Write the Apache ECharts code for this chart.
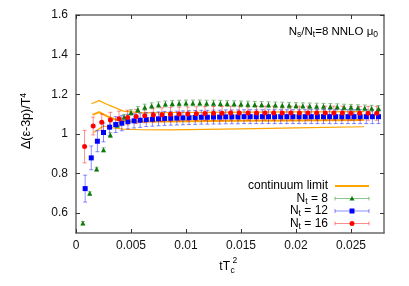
<!DOCTYPE html>
<html><head><meta charset="utf-8">
<script src="https://cdn.jsdelivr.net/npm/echarts@6/dist/echarts.min.js"></script>
<style>html,body{margin:0;padding:0;background:#fff}#c{width:409px;height:286px}</style>
</head><body><div id="c"></div>
<script>
const xTicks = [0, 0.005, 0.01, 0.015, 0.02, 0.025];
const yTicks = [0.6, 0.8, 1.0, 1.2, 1.4, 1.6];

const nt8X = [0.000625,0.00125,0.001875,0.0025,0.003125,0.00375,0.004375,0.005,0.005625,0.00625,
  0.006875,0.0075,0.008125,0.00875,0.009375,0.01,0.010625,0.01125,0.011875,0.0125,
  0.013125,0.01375,0.014375,0.015,0.015625,0.01625,0.016875,0.0175,0.018125,0.01875,
  0.019375,0.02,0.020625,0.02125,0.021875,0.0225,0.023125,0.02375,0.024375,0.025,
  0.025625,0.02625,0.026875,0.0275];
const nt8Y = [0.55,0.70,0.823,0.92,0.995,1.045,1.085,1.108,1.123,1.135,
  1.142,1.147,1.151,1.153,1.155,1.156,1.156,1.156,1.155,1.155,
  1.154,1.153,1.152,1.151,1.150,1.149,1.148,1.147,1.146,1.145,
  1.144,1.143,1.142,1.141,1.140,1.139,1.138,1.137,1.135,1.134,
  1.132,1.131,1.129,1.128];
const nt8Err = [0.008,0.008,0.009,0.010,0.011,0.012,0.013,0.014,0.015,0.015,
  0.015,0.015,0.015,0.015,0.015,0.015,0.015,0.015,0.015,0.015,
  0.015,0.015,0.015,0.015,0.015,0.015,0.015,0.015,0.015,0.015,
  0.015,0.015,0.015,0.015,0.015,0.015,0.015,0.015,0.015,0.015,
  0.015,0.015,0.015,0.015];

const nt12X = [0.000833,0.001389,0.001944,0.0025,0.003056,0.003611,0.004167,0.004722,0.005278,0.005833,
  0.006389,0.006944,0.0075,0.008056,0.008611,0.009167,0.009722,0.010278,0.010833,0.011389,
  0.011944,0.0125,0.013056,0.013611,0.014167,0.014722,0.015278,0.015833,0.016389,0.016944,
  0.0175,0.018056,0.018611,0.019167,0.019722,0.020278,0.020833,0.021389,0.021944,0.0225,
  0.023056,0.023611,0.024167,0.024722,0.025278,0.025833,0.026389,0.026944,0.0275];
const nt12Y = [0.724,0.879,0.963,1.007,1.034,1.047,1.054,1.062,1.066,1.069,
  1.072,1.074,1.076,1.078,1.079,1.080,1.081,1.082,1.083,1.084,
  1.084,1.085,1.085,1.086,1.086,1.086,1.087,1.087,1.087,1.087,
  1.087,1.087,1.087,1.087,1.087,1.087,1.087,1.087,1.087,1.087,
  1.087,1.087,1.087,1.087,1.087,1.087,1.087,1.087,1.087];
const nt12Err = [0.068,0.060,0.053,0.047,0.043,0.040,0.038,0.037,0.036,0.036,
  0.035,0.035,0.035,0.035,0.035,0.035,0.035,0.035,0.035,0.035,
  0.035,0.035,0.035,0.035,0.035,0.035,0.035,0.035,0.035,0.035,
  0.035,0.035,0.035,0.035,0.035,0.035,0.035,0.035,0.035,0.035,
  0.035,0.035,0.035,0.035,0.035,0.035,0.035,0.035,0.035];

const nt16X = [0.00078,0.00156,0.00234,0.00313,0.00391,0.00469,0.00547,0.00625,0.00703,0.00781,
  0.00859,0.00938,0.01016,0.01094,0.01172,0.0125,0.01328,0.01406,0.01484,0.01563,
  0.01641,0.01719,0.01797,0.01875,0.01953,0.02031,0.02109,0.02188,0.02266,0.02344,
  0.02422,0.025,0.02578,0.02656,0.02734];
const nt16Y = [0.936,1.040,1.059,1.070,1.077,1.083,1.088,1.092,1.095,1.097,
  1.099,1.100,1.101,1.102,1.103,1.104,1.104,1.105,1.105,1.105,
  1.105,1.105,1.105,1.105,1.105,1.105,1.105,1.105,1.105,1.105,
  1.105,1.104,1.104,1.104,1.104];
const nt16Err = [0.082,0.045,0.041,0.039,0.038,0.037,0.036,0.036,0.035,0.035,
  0.035,0.035,0.035,0.035,0.035,0.035,0.035,0.035,0.035,0.035,
  0.035,0.035,0.035,0.035,0.035,0.035,0.035,0.035,0.035,0.035,
  0.035,0.035,0.035,0.035,0.035];

const contUpX = [0.0014,0.0021,0.003,0.0043,0.006,0.009,0.015,0.02,0.0262];
const contUpY = [1.152,1.168,1.145,1.115,1.106,1.108,1.110,1.111,1.112];
const contMidX = [0.0015,0.0021,0.0028,0.0037,0.005,0.008,0.015,0.02,0.0262];
const contMidY = [1.096,1.110,1.090,1.070,1.063,1.063,1.066,1.068,1.070];
const contLowX = [0.0016,0.0025,0.0033,0.0043,0.006,0.0085,0.015,0.02,0.0262];
const contLowY = [1.007,1.040,1.031,1.024,1.021,1.020,1.025,1.030,1.036];

const FONT = "'Liberation Sans', Arial, Helvetica, sans-serif";
const ORANGE = '#ffa500';
const C8 = '#0b7a0b', C8B = 'rgba(11,122,11,0.45)';
const C12 = '#0000ff', C12B = 'rgba(0,0,255,0.45)';
const C16 = '#ff0000', C16B = 'rgba(255,0,0,0.45)';

function zip2(xs, ys) { return xs.map((x, i) => [x, ys[i]]); }
function zip3(xs, ys, es) { return xs.map((x, i) => [x, ys[i], es[i]]); }

function errSeries(data, color) {
  return {
    type: 'custom', data: data, z: 3, silent: true, animation: false,
    encode: { x: 0, y: 1 },
    renderItem: function (params, api) {
      const x = api.value(0), y = api.value(1), e = api.value(2);
      const t = api.coord([x, y + e]), b = api.coord([x, y - e]);
      const c = 2;
      const st = { stroke: color, lineWidth: 1 };
      return { type: 'group', children: [
        { type: 'line', shape: { x1: t[0], y1: t[1], x2: b[0], y2: b[1] }, style: st },
        { type: 'line', shape: { x1: t[0] - c, y1: t[1], x2: t[0] + c, y2: t[1] }, style: st },
        { type: 'line', shape: { x1: b[0] - c, y1: b[1], x2: b[0] + c, y2: b[1] }, style: st }
      ]};
    }
  };
}
function markSeries(data, symbol, size, color) {
  return { type: 'scatter', data: data, symbol: symbol, symbolSize: size, z: 4, silent: true,
    itemStyle: { color: color, opacity: 1 }, animation: false };
}
function contSeries(data, w) {
  return { type: 'line', data: data, showSymbol: false, symbol: 'none', z: 2, silent: true,
    lineStyle: { color: ORANGE, width: w }, animation: false };
}

const AX = '#6a6a6a';
const axisCommon = {
  axisLine: { show: true, onZero: false, lineStyle: { color: AX, width: 1.5 } },
  splitLine: { show: false }
};

const chart = echarts.init(document.getElementById('c'));
const subRich = {
  n: { fontFamily: FONT, fontSize: 12, lineHeight: 15, fill: '#000', color: '#000' },
  s: { fontFamily: FONT, fontSize: 8.5, lineHeight: 9, verticalAlign: 'bottom', color: '#000' },
  p: { fontFamily: FONT, fontSize: 8.5, lineHeight: 9, verticalAlign: 'top', color: '#000' }
};
function legendErr(y, line, mark, symbolShape) {
  const x1 = 335, x2 = 369, c = 2;
  const items = [
    { type: 'line', shape: { x1: x1, y1: y, x2: x2, y2: y }, style: { stroke: line, lineWidth: 1 } },
    { type: 'line', shape: { x1: x1, y1: y - c, x2: x1, y2: y + c }, style: { stroke: line, lineWidth: 1 } },
    { type: 'line', shape: { x1: x2, y1: y - c, x2: x2, y2: y + c }, style: { stroke: line, lineWidth: 1 } }
  ];
  items.push(symbolShape(352, y, mark));
  return items;
}
const tri = (x, y, col) => ({ type: 'polygon', shape: { points: [[x, y - 2.5], [x - 2.5, y + 2], [x + 2.5, y + 2]] }, style: { fill: col } });
const sq = (x, y, col) => ({ type: 'rect', shape: { x: x - 2.5, y: y - 2.5, width: 5, height: 5 }, style: { fill: col } });
const circ = (x, y, col) => ({ type: 'circle', shape: { cx: x, cy: y, r: 2.5 }, style: { fill: col } });

const option = {
  backgroundColor: '#fff',
  animation: false,
  grid: { left: 76, right: 25, top: 15, bottom: 53, containLabel: false },
  xAxis: [
    Object.assign({}, axisCommon, {
      type: 'value', min: 0, max: 0.028, position: 'bottom',
      axisTick: { show: true, inside: true, length: 4, customValues: xTicks, lineStyle: { color: '#333' } },
      axisLabel: { customValues: xTicks, margin: 7, color: '#111', fontSize: 12, fontFamily: FONT }
    }),
    Object.assign({}, axisCommon, {
      type: 'value', min: 0, max: 0.028, position: 'top',
      axisTick: { show: true, inside: true, length: 4, customValues: xTicks, lineStyle: { color: '#333' } },
      axisLabel: { show: false }
    })
  ],
  yAxis: [
    Object.assign({}, axisCommon, {
      type: 'value', min: 0.5, max: 1.6, position: 'left',
      axisTick: { show: true, inside: true, length: 4, customValues: yTicks, lineStyle: { color: '#333' } },
      axisLabel: { customValues: yTicks, margin: 8, color: '#111', fontSize: 12, fontFamily: FONT }
    }),
    Object.assign({}, axisCommon, {
      type: 'value', min: 0.5, max: 1.6, position: 'right',
      axisTick: { show: true, inside: true, length: 4, customValues: yTicks, lineStyle: { color: '#333' } },
      axisLabel: { show: false }
    })
  ],
  series: [
    contSeries(zip2(contUpX, contUpY), 1.2),
    contSeries(zip2(contMidX, contMidY), 2),
    contSeries(zip2(contLowX, contLowY), 1.2),
    errSeries(zip3(nt8X, nt8Y, nt8Err), C8B),
    markSeries(zip2(nt8X, nt8Y), 'triangle', 5, C8),
    errSeries(zip3(nt12X, nt12Y, nt12Err), C12B),
    markSeries(zip2(nt12X, nt12Y), 'rect', 5, C12),
    errSeries(zip3(nt16X, nt16Y, nt16Err), C16B),
    markSeries(zip2(nt16X, nt16Y), 'circle', 5, C16)
  ],
  graphic: [
    // y axis title
    { type: 'text', x: 27, y: 121, rotation: Math.PI / 2, silent: true,
      style: { text: '{n|\u0394(\u03b5-3p)/T}{p|4}', align: 'center', verticalAlign: 'middle',
        rich: { n: { fontFamily: FONT, fontSize: 12.5, lineHeight: 16, color: '#000' },
                p: { fontFamily: FONT, fontSize: 8.5, lineHeight: 9, verticalAlign: 'top', color: '#000' } } } },
    // x axis title
    { type: 'text', x: 230, y: 267, silent: true,
      style: { text: 'tT', font: '12px ' + FONT, fill: '#000', align: 'right', verticalAlign: 'middle' } },
    { type: 'text', x: 230.5, y: 271, silent: true,
      style: { text: 'c', font: '8.5px ' + FONT, fill: '#000', align: 'left', verticalAlign: 'middle' } },
    { type: 'text', x: 232.5, y: 261, silent: true,
      style: { text: '2', font: '8.5px ' + FONT, fill: '#000', align: 'left', verticalAlign: 'middle' } },
    // top-right label
    { type: 'text', x: 378, y: 32, silent: true,
      style: { text: '{n|N}{s|s}{n|/N}{s|t}{n|=8 NNLO \u03bc}{s|0}', align: 'right', verticalAlign: 'middle',
        rich: { n: { fontFamily: FONT, fontSize: 11.5, lineHeight: 15, color: '#000' },
                s: { fontFamily: FONT, fontSize: 8.5, lineHeight: 9, verticalAlign: 'bottom', color: '#000' } } } },
    // legend
    { type: 'text', x: 328, y: 186, silent: true,
      style: { text: 'continuum limit', font: '12px ' + FONT, fill: '#000', align: 'right', verticalAlign: 'middle' } },
    { type: 'line', silent: true, shape: { x1: 335, y1: 186, x2: 369, y2: 186 }, style: { stroke: ORANGE, lineWidth: 2 } },
    { type: 'text', x: 328, y: 198.5, silent: true,
      style: { text: '{n|N}{s|t}{n| = 8}', align: 'right', verticalAlign: 'middle', rich: subRich } },
    { type: 'text', x: 328, y: 211, silent: true,
      style: { text: '{n|N}{s|t}{n| = 12}', align: 'right', verticalAlign: 'middle', rich: subRich } },
    { type: 'text', x: 328, y: 223.5, silent: true,
      style: { text: '{n|N}{s|t}{n| = 16}', align: 'right', verticalAlign: 'middle', rich: subRich } }
  ].concat(legendErr(198.5, C8B, C8, tri))
   .concat(legendErr(211, C12B, C12, sq))
   .concat(legendErr(223.5, C16B, C16, circ))
};
chart.setOption(option);
</script>
</body></html>
